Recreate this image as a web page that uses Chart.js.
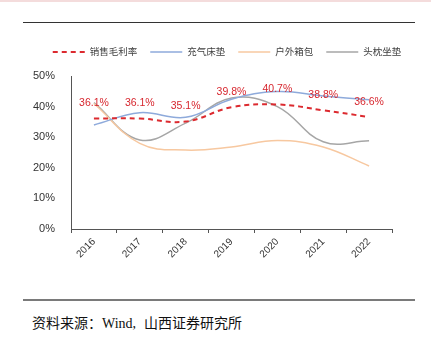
<!DOCTYPE html>
<html>
<head>
<meta charset="utf-8">
<script src="https://cdn.jsdelivr.net/npm/chart.js@4"></script>
<style>
  html, body { margin: 0; padding: 0; background: #fff; }
  body { width: 431px; height: 344px; position: relative; overflow: hidden; }
  #band { position: absolute; left: 0; top: 0; width: 431px; height: 2px; background: #f4dcdc; }
  #topLine { position: absolute; left: 23px; top: 22px; width: 392px; height: 1px; background: #333; }
  #bottomLine { position: absolute; left: 23px; top: 299px; width: 392px; height: 2px; background: #7a7a7a; }
  #source { position: absolute; left: 32px; top: 312px; font: 14px "Liberation Serif", "Noto Sans CJK SC", serif; color: #111; white-space: nowrap; }
  #source .gap { display: inline-block; width: 8px; }
  #grossChart { position: absolute; left: 0; top: 0; }
</style>
</head>
<body>
<div id="band"></div>
<div id="topLine"></div>
<canvas id="grossChart" width="431" height="270"></canvas>
<div id="bottomLine"></div>
<div id="source">资料来源：Wind,<span class="gap"></span>山西证券研究所</div>
<script>
const years = ['2016', '2017', '2018', '2019', '2020', '2021', '2022'];
const grossMargin = [36.1, 36.1, 35.1, 39.8, 40.7, 38.8, 36.6];   // 销售毛利率
const airMattress = [34.0, 38.0, 36.5, 42.4, 44.9, 43.5, 42.2];   // 充气床垫
const outdoorBags = [41.0, 28.0, 25.8, 26.8, 28.9, 26.8, 20.6];   // 户外箱包
const pillowCushion = [41.3, 29.1, 34.6, 42.8, 40.0, 28.5, 28.8]; // 头枕坐垫
const yTicks = [0, 10, 20, 30, 40, 50];

const uiFont = '"Liberation Sans", "Noto Sans CJK SC", sans-serif';

// red value labels above the gross margin line
const marginLabels = {
  id: 'marginLabels',
  afterDatasetsDraw(chart) {
    const meta = chart.getDatasetMeta(0);
    const ctx = chart.ctx;
    ctx.save();
    ctx.font = '10.5px ' + uiFont;
    ctx.fillStyle = '#d7262e';
    ctx.textAlign = 'center';
    ctx.textBaseline = 'middle';
    meta.data.forEach((pt, i) => {
      ctx.fillText(grossMargin[i].toFixed(1) + '%', pt.x, pt.y - 15);
    });
    ctx.restore();
  }
};

// legend row with dashed / solid line samples
const lineLegend = {
  id: 'lineLegend',
  afterDraw(chart) {
    const ctx = chart.ctx;
    const sample = 32, gap = 5, itemGap = 13, y = 52;
    ctx.save();
    ctx.font = '9.5px ' + uiFont;
    const sets = chart.data.datasets;
    const widths = sets.map(ds => sample + gap + ctx.measureText(ds.label).width);
    const total = widths.reduce((a, b) => a + b, 0) + itemGap * (sets.length - 1);
    let x = 227 - total / 2;
    sets.forEach((ds, i) => {
      ctx.beginPath();
      ctx.setLineDash(ds.borderDash || []);
      ctx.strokeStyle = ds.borderColor;
      ctx.lineWidth = ds.borderWidth;
      ctx.moveTo(x, y);
      ctx.lineTo(x + sample, y);
      ctx.stroke();
      ctx.setLineDash([]);
      ctx.fillStyle = '#404040';
      ctx.textBaseline = 'middle';
      ctx.fillText(ds.label, x + sample + gap, y);
      x += widths[i] + itemGap;
    });
    ctx.restore();
  }
};

const ctx = window.document.querySelector('#grossChart').getContext('2d');

new Chart(ctx, {
  type: 'line',
  data: {
    labels: years,
    datasets: [{
      label: '销售毛利率',
      data: grossMargin,
      borderColor: '#dc2a2f',
      borderWidth: 2,
      borderDash: [5, 4],
      tension: 0.4
    }, {
      label: '充气床垫',
      data: airMattress,
      borderColor: '#8eaadb',
      borderWidth: 1.5,
      tension: 0.4
    }, {
      label: '户外箱包',
      data: outdoorBags,
      borderColor: '#f7c8a0',
      borderWidth: 1.5,
      tension: 0.4
    }, {
      label: '头枕坐垫',
      data: pillowCushion,
      borderColor: '#a6a6a6',
      borderWidth: 1.5,
      tension: 0.4
    }]
  },
  options: {
    responsive: false,
    animation: false,
    elements: { point: { radius: 0 } },
    layout: { padding: { left: 20, right: 39, top: 76, bottom: 0 } },
    plugins: {
      tooltip: { enabled: false },
      legend: { display: false }
    },
    scales: {
      x: {
        offset: true,
        afterFit(scale) { scale.height = 41; },
        grid: { drawOnChartArea: false, drawTicks: true, tickLength: 4, offset: true, color: '#555' },
        border: { color: '#555' },
        ticks: { maxRotation: 45, minRotation: 45, color: '#333', font: { size: 10, family: uiFont }, padding: 3 }
      },
      y: {
        min: 0,
        max: 50,
        afterFit(scale) { scale.width = 51; },
        afterBuildTicks(scale) { scale.ticks = yTicks.map(v => ({ value: v })); },
        grid: { display: false },
        border: { display: true, color: '#555' },
        ticks: { color: '#333', font: { size: 11, family: uiFont }, padding: 8, callback: v => v + '%' }
      }
    }
  },
  plugins: [marginLabels, lineLegend]
});
</script>
</body>
</html>
